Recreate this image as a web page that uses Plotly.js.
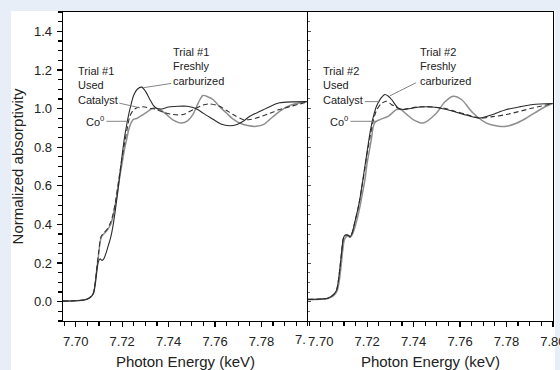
<!DOCTYPE html>
<html>
<head>
<meta charset="utf-8">
<script src="https://cdn.plot.ly/plotly-3.0.1.min.js"></script>
<style>html,body{margin:0;padding:0;background:#e8eef7;}#chart{width:560px;height:370px;}</style>
</head>
<body>
<div id="chart"></div>
<script>
// ---- Trial #1 (left panel) ----
const t1CoX = [7.6945,7.700,7.704,7.706,7.7075,7.7083,7.709,7.7098,7.7105,7.711,7.712,7.7135,7.715,7.716,7.717,7.718,7.719,7.720,7.721,7.722,7.7228,7.7238,7.7247,7.7265,7.7285,7.7305,7.7325,7.7341,7.7362,7.739,7.742,7.7455,7.748,7.7505,7.7528,7.7548,7.757,7.7591,7.762,7.7649,7.7678,7.7706,7.774,7.7778,7.781,7.7835,7.7878,7.792,7.7995];
const t1CoY = [0.003,0.005,0.010,0.020,0.040,0.085,0.16,0.24,0.31,0.335,0.35,0.37,0.40,0.44,0.50,0.57,0.65,0.72,0.79,0.845,0.89,0.925,0.943,0.95,0.965,0.98,0.998,1.003,0.995,0.97,0.94,0.925,0.935,0.97,1.03,1.068,1.06,1.047,1.01,0.977,0.945,0.925,0.912,0.908,0.918,0.943,0.986,1.015,1.036];

const t1FreshX = [7.6945,7.700,7.704,7.706,7.7075,7.7083,7.709,7.7097,7.7105,7.7113,7.712,7.713,7.714,7.715,7.716,7.717,7.718,7.719,7.720,7.721,7.722,7.723,7.724,7.725,7.7265,7.7284,7.730,7.7318,7.7335,7.735,7.737,7.740,7.744,7.748,7.7505,7.7525,7.755,7.7591,7.7625,7.7663,7.7695,7.7721,7.775,7.7794,7.7835,7.7878,7.7995];
const t1FreshY = [0.003,0.005,0.010,0.020,0.040,0.085,0.15,0.205,0.222,0.214,0.22,0.25,0.29,0.33,0.39,0.47,0.56,0.66,0.76,0.85,0.92,0.98,1.03,1.07,1.10,1.111,1.09,1.05,1.015,1.0,0.998,1.008,1.012,1.012,1.005,0.995,0.975,0.945,0.92,0.911,0.918,0.934,0.96,0.986,1.01,1.03,1.036];

const t1UsedX = [7.6945,7.700,7.704,7.706,7.7075,7.7083,7.709,7.7098,7.7105,7.711,7.712,7.7135,7.715,7.716,7.717,7.718,7.719,7.720,7.721,7.722,7.7233,7.7247,7.7262,7.729,7.732,7.7348,7.738,7.7419,7.7462,7.749,7.752,7.7548,7.7577,7.762,7.765,7.7678,7.7721,7.775,7.7778,7.7835,7.7878,7.7995];
const t1UsedY = [0.003,0.005,0.010,0.021,0.042,0.09,0.17,0.25,0.315,0.34,0.355,0.375,0.41,0.45,0.51,0.59,0.67,0.75,0.82,0.885,0.96,0.99,1.003,1.009,1.002,0.995,0.98,0.969,0.969,0.985,1.003,1.018,1.024,1.012,0.99,0.969,0.943,0.943,0.951,0.975,0.995,1.033];

// ---- Trial #2 (right panel) ----
const t2CoX = [7.6945,7.700,7.703,7.7054,7.707,7.708,7.7088,7.7095,7.7103,7.7115,7.7128,7.714,7.7155,7.717,7.718,7.719,7.720,7.7212,7.7219,7.7226,7.7235,7.7255,7.729,7.7327,7.7345,7.737,7.7398,7.7441,7.7499,7.7535,7.757,7.7606,7.7656,7.7714,7.776,7.780,7.7845,7.7886,7.7957,7.7999];
const t2CoY = [0.010,0.012,0.016,0.030,0.055,0.11,0.19,0.27,0.325,0.34,0.335,0.36,0.42,0.50,0.565,0.63,0.72,0.80,0.85,0.905,0.93,0.943,0.96,0.995,0.995,0.97,0.943,0.925,0.977,1.035,1.064,1.047,0.977,0.925,0.91,0.908,0.925,0.951,1.003,1.026];

const t2FreshX = [7.6945,7.700,7.703,7.7054,7.7068,7.7076,7.7083,7.709,7.7097,7.7104,7.7118,7.7126,7.7135,7.7147,7.716,7.7169,7.718,7.719,7.720,7.7212,7.7225,7.724,7.726,7.7276,7.729,7.7305,7.7333,7.7355,7.7375,7.7398,7.743,7.747,7.752,7.757,7.763,7.7685,7.773,7.780,7.786,7.7914,7.7999];
const t2FreshY = [0.012,0.014,0.018,0.035,0.06,0.11,0.18,0.26,0.327,0.344,0.344,0.335,0.355,0.413,0.48,0.535,0.62,0.70,0.78,0.873,0.95,1.012,1.055,1.073,1.065,1.047,1.003,0.995,0.998,1.003,1.008,1.009,1.0,0.986,0.965,0.951,0.965,0.995,1.01,1.021,1.026];

const t2UsedX = [7.6945,7.700,7.703,7.7054,7.7068,7.7076,7.7083,7.709,7.7097,7.7104,7.7118,7.7126,7.7135,7.7147,7.716,7.7169,7.718,7.719,7.720,7.7212,7.7225,7.724,7.726,7.7283,7.7305,7.7319,7.7345,7.7375,7.7427,7.7527,7.758,7.7628,7.7685,7.774,7.780,7.7914,7.7999];
const t2UsedY = [0.012,0.014,0.018,0.036,0.062,0.11,0.18,0.26,0.327,0.344,0.344,0.338,0.357,0.415,0.48,0.535,0.615,0.69,0.77,0.85,0.93,0.99,1.025,1.038,1.02,1.012,0.995,1.0,1.009,1.003,0.985,0.969,0.951,0.958,0.969,1.003,1.026];

// ---- axis ticks ----
const xTickVals1 = [7.70,7.72,7.74,7.76,7.78];
const xTickVals2 = [7.70,7.72,7.74,7.76,7.78,7.80];
const xTickText1 = ["7.70","7.72","7.74","7.76","7.78"];
const xTickText2 = ["7.70","7.72","7.74","7.76","7.78","7.80"];
const yTickVals = [0.0,0.2,0.4,0.6,0.8,1.0,1.2,1.4];
const yTickText = ["0.0","0.2","0.4","0.6","0.8","1.0","1.2","1.4"];
const xRange = [7.6945, 7.80005];
const yRange = [-0.1, 1.5];

const FONT = "Liberation Sans, Arial, sans-serif";
const coLine = {color:'#8f8f8f', width:1.5};
const freshLine = {color:'#2b2b2b', width:1.1};
const usedLine = {color:'#333333', width:1.1, dash:'5px,3px'};

const traces = [
  {x:t1CoX, y:t1CoY, xaxis:'x', yaxis:'y', mode:'lines', line:Object.assign({shape:'spline', smoothing:0.8}, coLine), name:'Co0 (Trial #1)'},
  {x:t1UsedX, y:t1UsedY, xaxis:'x', yaxis:'y', mode:'lines', line:Object.assign({shape:'spline', smoothing:0.8}, usedLine), name:'Trial #1 Used Catalyst'},
  {x:t1FreshX, y:t1FreshY, xaxis:'x', yaxis:'y', mode:'lines', line:Object.assign({shape:'spline', smoothing:0.8}, freshLine), name:'Trial #1 Freshly carburized'},
  {x:t2CoX, y:t2CoY, xaxis:'x2', yaxis:'y2', mode:'lines', line:Object.assign({shape:'spline', smoothing:0.8}, coLine), name:'Co0 (Trial #2)'},
  {x:t2UsedX, y:t2UsedY, xaxis:'x2', yaxis:'y2', mode:'lines', line:Object.assign({shape:'spline', smoothing:0.8}, usedLine), name:'Trial #2 Used Catalyst'},
  {x:t2FreshX, y:t2FreshY, xaxis:'x2', yaxis:'y2', mode:'lines', line:Object.assign({shape:'spline', smoothing:0.8}, freshLine), name:'Trial #2 Freshly carburized'}
];

const xCommon = {
  range:xRange, showgrid:false, zeroline:false, showline:true, linecolor:'#000', linewidth:1.3,
  mirror:true, ticks:'outside', ticklen:5, tickwidth:1.3, tickcolor:'#000',
  minor:{dtick:0.005, tick0:7.70, ticks:'outside', ticklen:4, tickwidth:1.2, tickcolor:'#000'},
  tickfont:{family:FONT, size:13, color:'#222'}, ticklabelstandoff:3, ticklabeloverflow:'allow',
  title:{text:'Photon Energy (keV)', font:{family:FONT, size:15, color:'#222'}, standoff:8}
};

const layout = {
  width:560, height:370,
  margin:{l:63, r:7, t:12, b:49},
  paper_bgcolor:'#e8eef7', plot_bgcolor:'#ffffff',
  showlegend:false,
  font:{family:FONT, color:'#222'},
  xaxis: Object.assign({}, xCommon, {domain:[0,0.5], anchor:'y', tickmode:'array', tickvals:xTickVals1, ticktext:xTickText1}),
  xaxis2: Object.assign({}, xCommon, {domain:[0.5,1], anchor:'y2', tickmode:'array', tickvals:xTickVals2, ticktext:xTickText2}),
  yaxis: {
    domain:[0,1], anchor:'x', range:yRange, showgrid:false, zeroline:false, showline:true, linecolor:'#000', linewidth:1.3,
    ticks:'outside', ticklen:5, tickwidth:1.3, tickcolor:'#000', tickmode:'array', tickvals:yTickVals, ticktext:yTickText,
    minor:{dtick:0.05, tick0:0, ticks:'outside', ticklen:4, tickwidth:1.2, tickcolor:'#000'},
    tickfont:{family:FONT, size:13, color:'#222'}, ticklabelstandoff:2,
    title:{text:'Normalized absorptivity', font:{family:FONT, size:15, color:'#222'}, standoff:6}
  },
  yaxis2: {
    domain:[0,1], anchor:'x2', range:yRange, showgrid:false, zeroline:false, showline:true, linecolor:'#000', linewidth:1.3,
    mirror:true, ticks:'inside', ticklen:3, tickwidth:1, tickcolor:'#555', tickmode:'array', tickvals:yTickVals, showticklabels:false,
    minor:{dtick:0.05, tick0:0, ticks:'inside', ticklen:2, tickwidth:1, tickcolor:'#777'}
  },
  shapes: [
    {type:'rect', xref:'paper', yref:'paper', x0:-0.1061, x1:1.0041, y0:-0.2, y1:1.0032, fillcolor:'#ffffff', line:{width:0}, layer:'below'},
    // leader lines
    {type:'line', xref:'x', yref:'y', x0:7.7188, y0:1.028, x1:7.7276, y1:1.004, line:{color:'#777', width:0.9}},
    {type:'line', xref:'x', yref:'y', x0:7.7132, y0:0.934, x1:7.7225, y1:0.934, line:{color:'#777', width:0.9}},
    {type:'line', xref:'x', yref:'y', x0:7.7411, y0:1.130, x1:7.7291, y1:1.108, line:{color:'#777', width:0.9}},
    {type:'line', xref:'x2', yref:'y2', x0:7.7190, y0:1.036, x1:7.7255, y1:1.036, line:{color:'#777', width:0.9}},
    {type:'line', xref:'x2', yref:'y2', x0:7.7128, y0:0.934, x1:7.7242, y1:0.934, line:{color:'#777', width:0.9}},
    {type:'line', xref:'x2', yref:'y2', x0:7.7411, y0:1.134, x1:7.7298, y1:1.066, line:{color:'#777', width:0.9}}
  ],
  annotations: [
    {xref:'x', yref:'y', x:7.7001, y:1.12, xanchor:'left', yanchor:'middle', align:'left', showarrow:false, text:'Trial #1<br>Used<br>Catalyst', font:{family:FONT, size:11, color:'#222'}},
    {xref:'x', yref:'y', x:7.7131, y:0.9375, xanchor:'right', yanchor:'middle', showarrow:false, text:'Co<sup>0</sup>', font:{family:FONT, size:11, color:'#222'}},
    {xref:'x', yref:'y', x:7.7412, y:1.216, xanchor:'left', yanchor:'middle', align:'left', showarrow:false, text:'Trial #1<br>Freshly<br>carburized', font:{family:FONT, size:11, color:'#222'}},
    {xref:'x2', yref:'y2', x:7.7003, y:1.12, xanchor:'left', yanchor:'middle', align:'left', showarrow:false, text:'Trial #2<br>Used<br>Catalyst', font:{family:FONT, size:11, color:'#222'}},
    {xref:'x2', yref:'y2', x:7.7127, y:0.9375, xanchor:'right', yanchor:'middle', showarrow:false, text:'Co<sup>0</sup>', font:{family:FONT, size:11, color:'#222'}},
    {xref:'x2', yref:'y2', x:7.742, y:1.216, xanchor:'left', yanchor:'middle', align:'left', showarrow:false, text:'Trial #2<br>Freshly<br>carburized', font:{family:FONT, size:11, color:'#222'}},
    // partially hidden 7.80 label of the left panel
    {xref:'x', yref:'paper', x:7.80, y:0, xanchor:'right', yanchor:'top', xshift:0, yshift:-9, showarrow:false, text:'7.', font:{family:FONT, size:13, color:'#222'}}
  ]
};

Plotly.newPlot('chart', traces, layout, {staticPlot:true, displayModeBar:false});
</script>
</body>
</html>
